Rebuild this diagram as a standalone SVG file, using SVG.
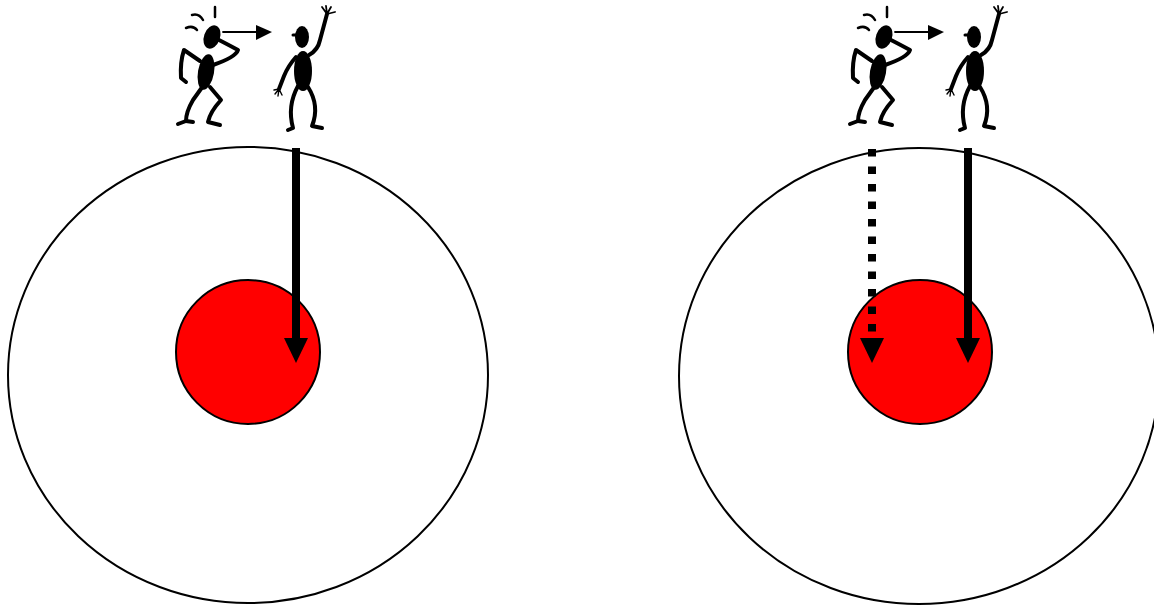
<svg xmlns="http://www.w3.org/2000/svg" width="1154" height="605" viewBox="0 0 1154 605">
  <style>
    .outer { fill: #ffffff; stroke: #000000; stroke-width: 2; }
    .core { fill: #ff0000; stroke: #000000; stroke-width: 2; }
    .limb { fill: none; stroke: #000000; stroke-linecap: round; stroke-linejoin: round; }
    .solid { fill: #000000; }
    .shaft { stroke: #000000; stroke-width: 8; fill: none; }
    .dotted { stroke: #000000; stroke-width: 8; fill: none; stroke-dasharray: 7.5 10; }
  </style>
  <defs>
    <!-- two cartoon people: one shouting (with a speech arrow), one waving -->
    <g id="pair">
      <!-- shouting person -->
      <g>
        <ellipse class="solid" cx="212" cy="37" rx="8" ry="12" transform="rotate(20 212 37)"/>
        <path class="limb" stroke-width="2.5" d="M215 7 L215 17"/>
        <path class="limb" stroke-width="2.5" d="M192 15 Q199 13 203 20"/>
        <path class="limb" stroke-width="2.5" d="M186 28 Q193 25 197 30"/>
        <ellipse class="solid" cx="206" cy="72" rx="8" ry="18" transform="rotate(10 206 72)"/>
        <path class="limb" stroke-width="4" d="M217 39 Q225 43 238 50 Q236 57 213 65"/>
        <path class="limb" stroke-width="4" d="M200 61 L184 50 Q180 62 181 78 L186 82"/>
        <path class="limb" stroke-width="4" d="M203 86 L193 100 Q186 112 186 121 L178 124"/>
        <path class="limb" stroke-width="4" d="M186 121 L193 122"/>
        <path class="limb" stroke-width="4" d="M210 87 L221 100 Q210 112 208 122 L220 125"/>
        <path class="limb" stroke-width="1.8" d="M223 32 L258 32"/>
        <polygon class="solid" points="256,25 272,32 256,40"/>
      </g>
      <!-- waving person -->
      <g>
        <ellipse class="solid" cx="302" cy="37" rx="7" ry="11"/>
        <path class="limb" stroke-width="3" d="M293 35 L298 35"/>
        <ellipse class="solid" cx="303" cy="71" rx="9" ry="20"/>
        <path class="limb" stroke-width="4" d="M309 55 Q318 50 320 40 L327 14"/>
        <path class="limb" stroke-width="1.8" d="M327 14 L322 7 M327 14 L326 6 M327 14 L331 7 M327 14 L335 12"/>
        <path class="limb" stroke-width="4" d="M296 57 Q288 66 284 76 L279 89"/>
        <path class="limb" stroke-width="1.4" d="M279 89 L274 90 M279 89 L275 94 M279 89 L278 96 M279 89 L282 95"/>
        <path class="limb" stroke-width="4" d="M298 86 Q287 106 293 128 L288 130"/>
        <path class="limb" stroke-width="4" d="M308 87 Q320 106 312 126 L322 128"/>
      </g>
    </g>
    <polygon id="head" points="-12,0 12,0 0,25"/>
  </defs>

  <!-- left panel -->
  <g id="left-people">
    <use href="#pair"/>
  </g>
  <g id="left-orbit">
    <ellipse class="outer" cx="248" cy="375" rx="240" ry="228"/>
  </g>
  <g id="left-core">
    <circle class="core" cx="248" cy="352" r="72"/>
  </g>

  <!-- right panel -->
  <g id="right-people">
    <use href="#pair" transform="translate(672 0)"/>
  </g>
  <g id="right-orbit">
    <ellipse class="outer" cx="919" cy="376" rx="240" ry="228"/>
  </g>
  <g id="right-core">
    <circle class="core" cx="920" cy="352" r="72"/>
  </g>

  <!-- connectors -->
  <g id="connectors">
    <line class="shaft" x1="296" y1="148" x2="296" y2="340"/>
    <use href="#head" x="296" y="338"/>
    <line class="dotted" x1="872" y1="149" x2="872" y2="334"/>
    <use href="#head" x="872" y="338"/>
    <line class="shaft" x1="968" y1="148" x2="968" y2="340"/>
    <use href="#head" x="968" y="338"/>
  </g>
</svg>
